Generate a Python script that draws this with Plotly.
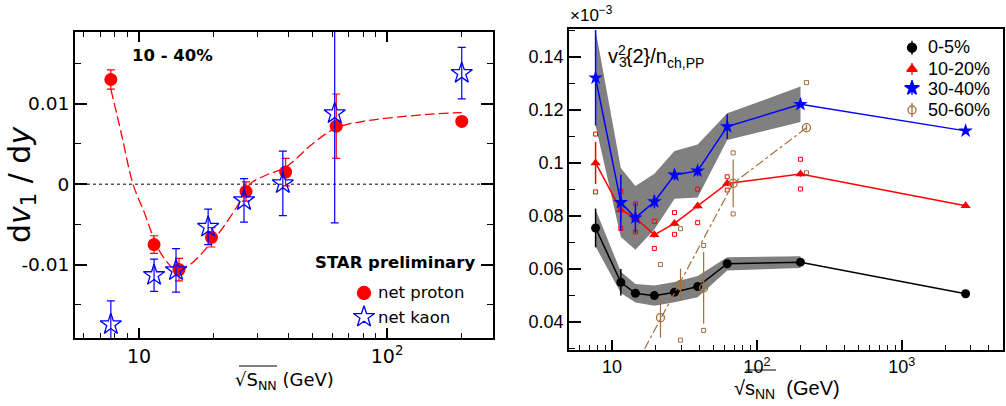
import plotly.graph_objects as go

W, H = 1006, 406

# ---------------- Left panel data ----------------
energy = [7.7, 11.5, 14.5, 19.6, 27, 39, 62.4, 200]
proton_slope = [0.0130, -0.0075, -0.0106, -0.0066, -0.0009, 0.0015, 0.0072, 0.0078]
proton_err = [0.0012, 0.0011, 0.0014, 0.0012, 0.0012, 0.0017, 0.0040, 0.0005]
kaon_energy = [7.7, 11.5, 14.1, 19.0, 26.5, 38.0, 61.5, 200]
kaon_slope = [-0.0174, -0.0113, -0.0107, -0.0053, -0.0020, 0.0001, 0.0088, 0.0138]
kaon_err = [0.0029, 0.0020, 0.0027, 0.0022, 0.0027, 0.0040, 0.0136, 0.0032]
fit_energy = [7.7, 8.5, 9.46, 10.5, 11.5, 12.5, 14, 16, 19.6, 21.2, 24.8, 28, 33, 39, 50, 62.4, 80, 100, 150, 200]
fit_slope = [0.0118, 0.0062, 0.0, -0.0035, -0.0068, -0.0090, -0.0105, -0.0100, -0.0072, -0.0059,
             -0.0028, 0.0, 0.0012, 0.0021, 0.0050, 0.0070, 0.0078, 0.0082, 0.0087, 0.0089]

# ---------------- Right panel data ----------------
energy_r = [7.7, 11.5, 14.5, 19.6, 27, 39, 62.4, 200, 2760]
c0_5 = [0.0755, 0.0550, 0.0509, 0.0500, 0.0513, 0.0534, 0.0620, 0.0626, 0.0507]
c0_5_err = [0.0073, 0.0050, 0.0010, 0.0010, 0.0010, 0.0010, 0.0010, 0.0008, 0.0008]
c0_5_band = [0.0070, 0.0040, 0.0035, 0.0038, 0.0038, 0.0040, 0.0025, 0.0022]
c10_20 = [0.1000, 0.0823, 0.0793, 0.0729, 0.0772, 0.0838, 0.0923, 0.0958, 0.0839]
c10_20_err = [0.0079, 0.0030, 0.0020, 0.0010, 0.0010, 0.0010, 0.0010, 0.0010, 0.0005]
c10_20_sys = [0.0109, 0.0070, 0.0053, 0.0051, 0.0041, 0.0063, 0.0025, 0.0056]
c30_40 = [0.1321, 0.0851, 0.0793, 0.0854, 0.0955, 0.0970, 0.1137, 0.1221, 0.1121]
c30_40_err = [0.0180, 0.0105, 0.0056, 0.0025, 0.0020, 0.0020, 0.0047, 0.0010, 0.0010]
c30_40_band = [0.0180, 0.0130, 0.0120, 0.0105, 0.0090, 0.0100, 0.0050, 0.0067]
energy_50 = [21.6, 29.7, 42.9, 68.6, 220]
c50_60 = [0.0417, 0.0542, 0.0529, 0.0923, 0.1133]
c50_60_err = [0.0075, 0.0060, 0.0135, 0.0090, 0.0010]
c50_60_sys = [0.0200, 0.0210, 0.0160, 0.0115, 0.0170]
trend50_energy = [16.8, 68.6, 220]
trend50_value = [0.0300, 0.0923, 0.1133]

RED = "#ff0000"
BLUE = "#0000ff"
BROWN = "#a0703c"
GRAY = "#808080"
LFONT = "DejaVu Sans"
RFONT = "Liberation Sans"


def px(x):
    return x / W


def py(y):
    return 1 - y / H


fig = go.Figure()

# ---- left panel ----
fig.add_trace(go.Scatter(x=fit_energy, y=fit_slope, mode="lines", xaxis="x", yaxis="y",
                         line=dict(color=RED, width=1.3, dash="10px,4px", shape="spline"),
                         hoverinfo="skip", showlegend=False))
fig.add_trace(go.Scatter(x=energy, y=proton_slope, mode="markers", xaxis="x", yaxis="y",
                         marker=dict(symbol="circle", size=13, color=RED),
                         error_y=dict(type="data", array=proton_err, color=RED, thickness=1.2, width=4),
                         showlegend=False))
fig.add_trace(go.Scatter(x=kaon_energy, y=kaon_slope, mode="markers", xaxis="x", yaxis="y",
                         marker=dict(symbol="star-open", size=16, color=BLUE, line=dict(width=1.3, color=BLUE)),
                         error_y=dict(type="data", array=kaon_err, color=BLUE, thickness=1.2, width=4),
                         showlegend=False))


# ---- right panel ----
def band(xs, ys, hs):
    n = len(hs)
    bx = list(xs[:n]) + list(xs[:n])[::-1]
    by = [ys[i] + hs[i] for i in range(n)] + [ys[i] - hs[i] for i in range(n)][::-1]
    return bx, by


bx, by = band(energy_r, c30_40, c30_40_band)
fig.add_trace(go.Scatter(x=bx, y=by, fill="toself", fillcolor=GRAY, mode="lines", line=dict(width=0),
                         xaxis="x2", yaxis="y2", hoverinfo="skip", showlegend=False))
bx, by = band(energy_r, c0_5, c0_5_band)
fig.add_trace(go.Scatter(x=bx, y=by, fill="toself", fillcolor=GRAY, mode="lines", line=dict(width=0),
                         xaxis="x2", yaxis="y2", hoverinfo="skip", showlegend=False))

# red brackets (systematics)
n = len(c10_20_sys)
sys_x = energy_r[:n] * 2
sys_y = [c10_20[i] + c10_20_sys[i] for i in range(n)] + [c10_20[i] - c10_20_sys[i] for i in range(n)]
fig.add_trace(go.Scatter(x=sys_x, y=sys_y, mode="markers", xaxis="x2", yaxis="y2",
                         marker=dict(symbol="square-open", size=4, color=RED, line=dict(width=1, color=RED)),
                         hoverinfo="skip", showlegend=False))
m = len(energy_50)
sys_x = energy_50 * 2
sys_y = [c50_60[i] + c50_60_sys[i] for i in range(m)] + [c50_60[i] - c50_60_sys[i] for i in range(m)]
fig.add_trace(go.Scatter(x=sys_x, y=sys_y, mode="markers", xaxis="x2", yaxis="y2",
                         marker=dict(symbol="square-open", size=4, color=BROWN, line=dict(width=1, color=BROWN)),
                         hoverinfo="skip", showlegend=False))

fig.add_trace(go.Scatter(x=energy_r, y=c0_5, mode="lines+markers", xaxis="x2", yaxis="y2",
                         line=dict(color="black", width=1.5),
                         marker=dict(symbol="circle", size=9, color="black"),
                         error_y=dict(type="data", array=c0_5_err, color="black", thickness=1.5, width=0),
                         showlegend=False))
fig.add_trace(go.Scatter(x=energy_r, y=c10_20, mode="lines+markers", xaxis="x2", yaxis="y2",
                         line=dict(color=RED, width=1.5),
                         marker=dict(symbol="triangle-up", size=9, color=RED),
                         error_y=dict(type="data", array=c10_20_err, color=RED, thickness=1.5, width=0),
                         showlegend=False))
fig.add_trace(go.Scatter(x=energy_r, y=c30_40, mode="lines+markers", xaxis="x2", yaxis="y2",
                         line=dict(color=BLUE, width=1.5),
                         marker=dict(symbol="star", size=11, color=BLUE),
                         error_y=dict(type="data", array=c30_40_err, color=BLUE, thickness=1.5, width=0),
                         showlegend=False))
fig.add_trace(go.Scatter(x=trend50_energy, y=trend50_value, mode="lines", xaxis="x2", yaxis="y2",
                         line=dict(color=BROWN, width=1.2, dash="dashdot"),
                         hoverinfo="skip", showlegend=False))
fig.add_trace(go.Scatter(x=energy_50, y=c50_60, mode="markers", xaxis="x2", yaxis="y2",
                         marker=dict(symbol="circle-open", size=8, color=BROWN, line=dict(width=1.3, color=BROWN)),
                         error_y=dict(type="data", array=c50_60_err, color=BROWN, thickness=1.2, width=0),
                         showlegend=False))

# ---- legend markers on a pixel overlay axis ----
leg_x = [364, 364, 912, 912, 912, 912]
leg_y = [293, 317, 47.7, 69, 88, 110]
leg_sym = ["circle", "star-open", "circle", "triangle-up", "star", "circle-open"]
leg_col = [RED, BLUE, "black", RED, BLUE, BROWN]
leg_size = [13, 16, 9, 9, 11, 8]
leg_err = [0, 0, 7, 6, 7, 7]
for i in range(len(leg_x)):
    fig.add_trace(go.Scatter(x=[leg_x[i]], y=[leg_y[i]], mode="markers", xaxis="x3", yaxis="y3",
                             marker=dict(symbol=leg_sym[i], size=leg_size[i], color=leg_col[i],
                                         line=dict(width=1.3, color=leg_col[i])),
                             error_y=dict(type="data", array=[leg_err[i]], color=leg_col[i],
                                          thickness=1.3, width=0),
                             cliponaxis=False, hoverinfo="skip", showlegend=False))

fig.update_layout(
    width=W, height=H, margin=dict(l=0, r=0, t=0, b=0),
    paper_bgcolor="white", plot_bgcolor="rgba(0,0,0,0)",
    xaxis=dict(showgrid=False, zeroline=False, showline=True, linecolor="black", ticks="inside",
               tickcolor="black",
               type="log", range=[0.742, 2.427], domain=[px(75), px(493)], anchor="y",
               linewidth=2, mirror="allticks", ticklen=10, tickwidth=1.5,
               tickmode="array", tickvals=[10, 100], ticktext=["10", "10<sup>2</sup>"],
               tickfont=dict(family=LFONT, size=19, color="black"),
               minor=dict(ticks="inside", ticklen=5, tickwidth=1.2, tickcolor="black", dtick="D1")),
    yaxis=dict(showgrid=False, zeroline=False, showline=True, linecolor="black", ticks="inside",
               tickcolor="black",
               range=[-0.0191, 0.0189], domain=[py(338), py(32)], anchor="x",
               linewidth=2, mirror="allticks", ticklen=12, tickwidth=1.5,
               tickmode="array", tickvals=[-0.01, 0, 0.01], ticktext=["-0.01", "0", "0.01"],
               tickfont=dict(family=LFONT, size=18.5, color="black"),
               minor=dict(ticks="inside", ticklen=6, tickwidth=1.2, tickcolor="black",
                          tick0=0, dtick=0.005)),
    xaxis2=dict(showgrid=False, zeroline=False, showline=True, linecolor="black", ticks="inside",
                tickcolor="black",
                type="log", range=[0.703, 3.699], domain=[px(569), px(1003)], anchor="y2",
                linewidth=1.6, mirror=True, ticklen=10, tickwidth=1.5,
                tickmode="array", tickvals=[10, 100, 1000],
                ticktext=["10", "10<sup>2</sup>", "10<sup>3</sup>"],
                tickfont=dict(family=RFONT, size=18, color="black"),
                minor=dict(ticks="inside", ticklen=5, tickwidth=1.2, tickcolor="black", dtick="D1")),
    yaxis2=dict(showgrid=False, zeroline=False, showline=True, linecolor="black", ticks="inside",
                tickcolor="black",
                range=[0.0295, 0.1505], domain=[py(350), py(29)], anchor="x2",
                linewidth=1.6, mirror=True, ticklen=12, tickwidth=1.5,
                tickmode="array", tickvals=[0.04, 0.06, 0.08, 0.1, 0.12, 0.14],
                ticktext=["0.04", "0.06", "0.08", "0.1", "0.12", "0.14"],
                tickfont=dict(family=RFONT, size=18, color="black"),
                minor=dict(ticks="inside", ticklen=6, tickwidth=1.2, tickcolor="black",
                           tick0=0.03, dtick=0.01)),
    xaxis3=dict(domain=[0, 1], range=[0, W], visible=False, anchor="y3", fixedrange=True),
    yaxis3=dict(domain=[0, 1], range=[H, 0], visible=False, anchor="x3", fixedrange=True),
)

# dotted zero line
fig.add_shape(type="line", xref="x domain", yref="y", x0=0, x1=1, y0=0, y1=0,
              line=dict(color="#555555", width=1.5, dash="dot"), layer="below")

ann = []


def text(x, y, s, size, family, xanchor="left", yanchor="middle", angle=0):
    ann.append(dict(x=px(x), y=py(y), xref="paper", yref="paper", text=s, showarrow=False,
                    xanchor=xanchor, yanchor=yanchor, textangle=angle,
                    font=dict(family=family, size=size, color="black")))


# left panel texts
text(172, 55, "<b>10 - 40%</b>", 16.5, LFONT, xanchor="center")
text(395, 262, "<b>STAR preliminary</b>", 16.5, LFONT, xanchor="center")
text(376, 292, "net proton", 16.5, LFONT)
text(376, 317, "net kaon", 16.5, LFONT)
text(22, 185, "d<i>v</i><sub>1</sub> / d<i>y</i>", 30, LFONT, xanchor="center", angle=-90)
text(284, 381, "√S<sub>NN</sub> (GeV)", 18, LFONT, xanchor="center")

# right panel texts
text(568, 14, "×10<sup>−3</sup>", 17, RFONT)
text(606, 56, "v<sup>2</sup>{2}/n<sub>ch,PP</sub>", 20, RFONT)
text(617, 62, "<sub>3</sub>", 20, RFONT)
text(926, 47, "0-5%", 18, RFONT)
text(926, 69, "10-20%", 18, RFONT)
text(926, 89, "30-40%", 18, RFONT)
text(926, 110, "50-60%", 18, RFONT)
text(787, 389, "√s<sub>NN</sub>  (GeV)", 20, RFONT, xanchor="center")

fig.update_layout(annotations=ann)

# overlines of the square roots
fig.add_shape(type="line", xref="paper", yref="paper", x0=px(239), x1=px(277), y0=py(366), y1=py(366),
              line=dict(color="black", width=1))
fig.add_shape(type="line", xref="paper", yref="paper", x0=px(746), x1=px(776), y0=py(370), y1=py(370),
              line=dict(color="black", width=1))

fig.write_html("out.html")
